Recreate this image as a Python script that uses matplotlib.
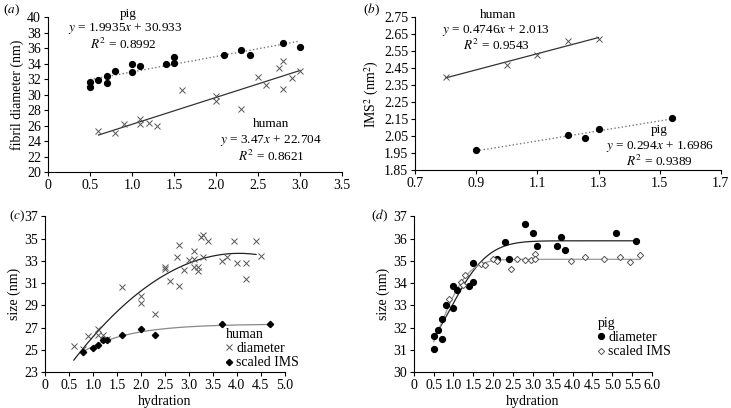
"""Fibril diameter and IMS versus hydration, four panels."""

import matplotlib
matplotlib.use("Agg")
import matplotlib.pyplot as plt
import numpy as np

plt.rcParams["font.family"] = ["Liberation Serif", "DejaVu Serif"]
plt.rcParams["mathtext.fontset"] = "stix"
plt.rcParams["font.size"] = 9

# (a) fibril diameter vs hydration
a_pig_x = [0.5, 0.5, 0.6, 0.7, 0.7, 0.8, 1.0, 1.0, 1.1, 1.4, 1.5, 1.5, 2.1, 2.3, 2.4, 2.8, 3.0]
a_pig_y = [31.0, 31.6, 31.9, 32.4, 31.5, 33.0, 33.9, 32.9, 33.7, 33.9, 34.9, 34.1, 35.1, 35.8, 35.1, 36.6, 36.2]
a_hum_x = [0.6, 0.8, 0.9, 1.1, 1.1, 1.2, 1.3, 1.6, 2.0, 2.0, 2.3, 2.5, 2.6, 2.75, 2.8, 2.8, 2.9, 3.0]
a_hum_y = [25.3, 25.1, 26.2, 26.8, 26.2, 26.3, 26.0, 30.6, 29.8, 29.2, 28.2, 32.3, 31.2, 33.4, 34.4, 30.7, 32.2, 33.1]
a_pig_fit = (1.9935, 30.933)
a_hum_fit = (3.47, 22.704)

# (b) IMS^2
b_hum_x = [0.8, 1.0, 1.1, 1.2, 1.3]
b_hum_y = [2.40, 2.47, 2.525, 2.61, 2.62]
b_pig_x = [0.9, 1.2, 1.255, 1.3, 1.54]
b_pig_y = [1.967, 2.057, 2.037, 2.093, 2.155]
b_hum_fit = (0.4746, 2.013)
b_pig_fit = (0.294, 1.6986)

# (c) human size vs hydration
c_diam_x = [0.6, 0.8, 0.9, 1.1, 1.1, 1.2, 1.3, 1.6, 2.0, 2.0, 2.3, 2.5, 2.5, 2.6, 2.75,
            2.8, 2.8, 2.9, 3.0, 3.1, 3.1, 3.1, 3.2, 3.2, 3.25, 3.3, 3.3, 3.4, 3.7, 3.8,
            3.95, 4.0, 4.2, 4.2, 4.4, 4.5]
c_diam_y = [25.3, 25.1, 26.2, 26.9, 26.3, 26.3, 26.0, 30.6, 29.8, 29.2, 28.2, 32.3, 32.4, 31.2, 33.3,
            34.4, 30.7, 32.2, 33.1, 33.9, 33.2, 32.4, 32.4, 32.1, 35.1, 35.3, 33.3, 34.8, 33.0, 33.3,
            34.8, 32.8, 32.8, 31.4, 34.8, 33.4]
c_ims_x = [0.8, 1.0, 1.1, 1.2, 1.3, 1.6, 2.0, 2.3, 3.7, 4.7]
c_ims_y = [24.85, 25.2, 25.4, 25.9, 25.9, 26.3, 26.85, 26.35, 27.3, 27.3]

# (d) pig size vs hydration
d_diam_x = [0.5, 0.5, 0.6, 0.7, 0.7, 0.8, 1.0, 1.0, 1.1, 1.4, 1.5, 1.5, 2.1, 2.3, 2.4,
            2.8, 3.0, 3.1, 3.6, 3.7, 3.8, 5.1, 5.6]
d_diam_y = [31.6, 31.05, 31.9, 32.4, 31.5, 33.0, 33.85, 32.9, 33.7, 33.85, 34.9, 34.05, 35.1, 35.85, 35.1,
            36.65, 36.25, 35.65, 35.65, 36.05, 35.5, 36.25, 35.9]
d_ims_x = [0.9, 1.2, 1.25, 1.3, 1.7, 1.8, 2.0, 2.1, 2.45, 2.6, 2.8, 2.95, 3.05, 3.05,
           3.95, 4.3, 4.8, 5.2, 5.45, 5.7]
d_ims_y = [33.3, 34.05, 33.9, 34.35, 34.85, 34.8, 35.1, 35.0, 34.65, 35.1, 35.05, 35.05, 35.3, 35.1,
           35.0, 35.15, 35.1, 35.15, 34.95, 35.25]

FS = 9.5


def saturating_fit(x, y, power):
    """Least squares fit of y = A - B*exp(-k*x**power), grid search on k."""
    x = np.asarray(x, dtype=float)
    y = np.asarray(y, dtype=float)
    best = None
    for k in np.linspace(0.05, 5.0, 500):
        basis = np.column_stack([np.ones_like(x), -np.exp(-k * x ** power)])
        coef, *_ = np.linalg.lstsq(basis, y, rcond=None)
        err = np.sum((basis @ coef - y) ** 2)
        if best is None or err < best[0]:
            best = (err, k, coef)
    _, k, (A, B) = best
    return lambda t: A - B * np.exp(-k * t ** power)


def style_axes(ax):
    ax.spines["top"].set_visible(False)
    ax.spines["right"].set_visible(False)
    ax.tick_params(direction="out", length=3, width=0.8, labelsize=10, pad=2)


def add_legend(ax, title, anchor):
    leg = ax.legend(loc="lower right", bbox_to_anchor=anchor, frameon=False, title=title,
                    fontsize=FS + 0.5, title_fontsize=FS + 0.5, handlelength=0.5,
                    handletextpad=0.25, borderpad=0.2, labelspacing=0.1)
    leg._legend_box.align = "left"


fig = plt.figure(figsize=(7.31, 4.08), dpi=100)

# panel (a)
ax = fig.add_axes([0.0657, 0.578, 0.402, 0.380])
ax.plot(a_pig_x, a_pig_y, "o", color="black", markersize=4.2, zorder=3)
ax.plot(a_hum_x, a_hum_y, "x", color="#555555", markersize=4.5, markeredgewidth=0.7, zorder=3)
xx = np.array([min(a_pig_x), max(a_pig_x)])
ax.plot(xx, a_pig_fit[0] * xx + a_pig_fit[1], ":", color="#777777", lw=1.0)
xx = np.array([min(a_hum_x), max(a_hum_x)])
ax.plot(xx, a_hum_fit[0] * xx + a_hum_fit[1], "-", color="#333333", lw=0.9)
ax.set_xlim(0, 3.5)
ax.set_ylim(20, 40)
ax.set_xticks(np.arange(0, 3.51, 0.5))
ax.set_xticklabels(["0", "0.5", "1.0", "1.5", "2.0", "2.5", "3.0", "3.5"])
ax.set_yticks(np.arange(20, 41, 2))
ax.set_ylabel("fibril diameter (nm)", fontsize=FS + 0.5, labelpad=2)
style_axes(ax)
ax.text(0.272, 1.02, "pig", transform=ax.transAxes, ha="center", va="center", fontsize=FS)
ax.text(0.262, 0.925, "$y$ = 1.9935$x$ + 30.933", transform=ax.transAxes, ha="center", va="center", fontsize=FS)
ax.text(0.255, 0.823, "$R^2$ = 0.8992", transform=ax.transAxes, ha="center", va="center", fontsize=FS)
ax.text(0.76, 0.31, "human", transform=ax.transAxes, ha="center", va="center", fontsize=FS)
ax.text(0.76, 0.205, "$y$ = 3.47$x$ + 22.704", transform=ax.transAxes, ha="center", va="center", fontsize=FS)
ax.text(0.76, 0.10, "$R^2$ = 0.8621", transform=ax.transAxes, ha="center", va="center", fontsize=FS)
fig.text(0.004, 0.975, "($a$)", fontsize=FS, va="center")

# panel (b)
ax = fig.add_axes([0.568, 0.583, 0.418, 0.375])
ax.plot(b_hum_x, b_hum_y, "x", color="#555555", markersize=4.5, markeredgewidth=0.7, zorder=3)
ax.plot(b_pig_x, b_pig_y, "o", color="black", markersize=4.2, zorder=3)
xx = np.array([min(b_hum_x), max(b_hum_x)])
ax.plot(xx, b_hum_fit[0] * xx + b_hum_fit[1], "-", color="#333333", lw=0.9)
xx = np.array([min(b_pig_x), max(b_pig_x)])
ax.plot(xx, b_pig_fit[0] * xx + b_pig_fit[1], ":", color="#777777", lw=1.0)
ax.set_xlim(0.7, 1.7)
ax.set_ylim(1.85, 2.75)
ax.set_xticks([0.7, 0.9, 1.1, 1.3, 1.5, 1.7])
ax.set_yticks(np.arange(1.85, 2.76, 0.1))
ax.set_yticklabels([f"{v:.2f}" for v in np.arange(1.85, 2.76, 0.1)])
ax.set_ylabel("IMS$^2$ (nm$^2$)", fontsize=FS + 0.5, labelpad=2)
style_axes(ax)
ax.text(0.27, 1.015, "human", transform=ax.transAxes, ha="center", va="center", fontsize=FS)
ax.text(0.265, 0.91, "$y$ = 0.4746$x$ + 2.013", transform=ax.transAxes, ha="center", va="center", fontsize=FS)
ax.text(0.265, 0.812, "$R^2$ = 0.9543", transform=ax.transAxes, ha="center", va="center", fontsize=FS)
ax.text(0.80, 0.26, "pig", transform=ax.transAxes, ha="center", va="center", fontsize=FS)
ax.text(0.80, 0.155, "$y$ = 0.294$x$ + 1.6986", transform=ax.transAxes, ha="center", va="center", fontsize=FS)
ax.text(0.80, 0.055, "$R^2$ = 0.9389", transform=ax.transAxes, ha="center", va="center", fontsize=FS)
fig.text(0.497, 0.975, "($b$)", fontsize=FS, va="center")

# panel (c)
ax = fig.add_axes([0.0616, 0.088, 0.328, 0.382])
ax.plot(c_diam_x, c_diam_y, "x", color="#555555", markersize=4.5, markeredgewidth=0.7,
        zorder=3, label="diameter")
ax.plot(c_ims_x, c_ims_y, "D", color="black", markersize=3.2, zorder=3, label="scaled IMS")
coef = np.polyfit(c_diam_x, c_diam_y, 2)
xx = np.linspace(min(c_diam_x), 4.4, 200)
ax.plot(xx, np.polyval(coef, xx), "-", color="#222222", lw=0.9)
fit = saturating_fit(c_ims_x, c_ims_y, 1)
xx = np.linspace(min(c_ims_x), max(c_ims_x), 200)
ax.plot(xx, fit(xx), "-", color="#888888", lw=0.9)
ax.set_xlim(0, 5.0)
ax.set_ylim(23, 37)
ax.set_xticks(np.arange(0, 5.01, 0.5))
ax.set_xticklabels(["0"] + [f"{v:.1f}" for v in np.arange(0.5, 5.01, 0.5)])
ax.set_yticks(np.arange(23, 38, 2))
ax.set_xlabel("hydration", fontsize=FS + 0.5, labelpad=2)
ax.set_ylabel("size (nm)", fontsize=FS + 0.5, labelpad=2)
style_axes(ax)
add_legend(ax, "human", (1.10, -0.045))
fig.text(0.012, 0.47, "($c$)", fontsize=FS, va="center")

# panel (d)
ax = fig.add_axes([0.566, 0.088, 0.326, 0.382])
ax.plot(d_diam_x, d_diam_y, "o", color="black", markersize=4.2, zorder=3, label="diameter")
ax.plot(d_ims_x, d_ims_y, "D", markerfacecolor="white", markeredgecolor="#555555",
        markeredgewidth=0.7, markersize=3.2, zorder=4, label="scaled IMS")
fit = saturating_fit(d_diam_x, d_diam_y, 2)
xx = np.linspace(min(d_diam_x), max(d_diam_x), 200)
ax.plot(xx, fit(xx), "-", color="#222222", lw=0.9)
fit = saturating_fit(d_ims_x + d_diam_x[:2], d_ims_y + d_diam_y[:2], 2)
xx = np.linspace(min(d_diam_x), max(d_ims_x), 200)
ax.plot(xx, fit(xx), "-", color="#999999", lw=0.9)
ax.set_xlim(0, 6.0)
ax.set_ylim(30, 37)
ax.set_xticks(np.arange(0, 6.01, 0.5))
ax.set_xticklabels(["0"] + [f"{v:.1f}" for v in np.arange(0.5, 6.01, 0.5)])
ax.set_yticks(np.arange(30, 38, 1))
ax.set_xlabel("hydration", fontsize=FS + 0.5, labelpad=2)
ax.set_ylabel("size (nm)", fontsize=FS + 0.5, labelpad=2)
style_axes(ax)
add_legend(ax, "pig", (1.12, 0.025))
fig.text(0.508, 0.47, "($d$)", fontsize=FS, va="center")

fig.savefig("out.png", dpi=100)
